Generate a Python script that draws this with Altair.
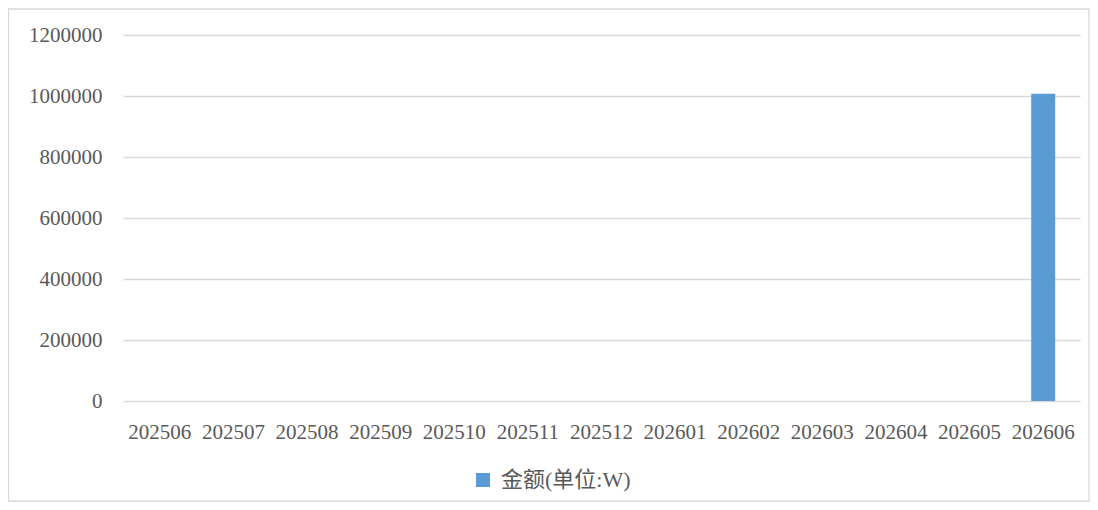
import altair as alt
import pandas as pd

months = ["202506", "202507", "202508", "202509", "202510", "202511", "202512",
          "202601", "202602", "202603", "202604", "202605", "202606"]
amounts = [0, 0, 0, 0, 0, 0, 0, 0, 0, 0, 0, 0, 1007000]
series_name = "金额(单位:W)"
y_ticks = [0, 200000, 400000, 600000, 800000, 1000000, 1200000]

df = pd.DataFrame({"month": months, "amount": amounts, "series": [series_name] * len(months)})

W, H = 957, 366
PAD_L, PAD_T, PAD_R, PAD_B = 115, 27, 10, 101

label_font = "'Liberation Serif', 'Times New Roman', serif"
legend_font = "'Liberation Serif', 'Times New Roman', 'Noto Sans CJK SC', serif"
text_color = "#595959"
grid_color = "#D9D9D9"

bars = alt.Chart(df).mark_bar(color="#5B9BD5").encode(
    x=alt.X("month:N", sort=months,
            scale=alt.Scale(paddingInner=0.674, paddingOuter=0.337),
            axis=alt.Axis(title=None, labelAngle=0, domain=False, ticks=False, tickSize=0,
                          labelPadding=20, labelFont=label_font, labelFontSize=21,
                          labelColor=text_color, grid=False, labelOverlap=False)),
    y=alt.Y("amount:Q",
            scale=alt.Scale(domain=[0, 1200000], nice=False),
            axis=alt.Axis(title=None, values=y_ticks, format="d", domain=False, ticks=False,
                          tickSize=0, labelPadding=21, labelFont=label_font, labelFontSize=21,
                          labelColor=text_color, grid=True, gridColor=grid_color,
                          gridWidth=1.4)),
    color=alt.Color("series:N",
                    scale=alt.Scale(domain=[series_name], range=["#5B9BD5"]),
                    legend=alt.Legend(title=None, orient="none", legendX=349, legendY=434,
                                      symbolType="square", symbolSize=196,
                                      symbolStrokeWidth=0, padding=0, labelOffset=7,
                                      labelFont=legend_font,
                                      labelFontSize=22, labelColor=text_color)),
)

border = alt.Chart(pd.DataFrame({"b": [0]})).mark_rect(
    fill=None, stroke=grid_color, strokeWidth=1.3
).encode(
    x=alt.value(-PAD_L + 0.5), x2=alt.value(W + PAD_R - 1),
    y=alt.value(-PAD_T + 1), y2=alt.value(H + PAD_B - 1),
)

chart = alt.layer(border, bars).properties(
    width=W, height=H,
    padding={"left": PAD_L, "top": PAD_T, "right": PAD_R, "bottom": PAD_B},
    autosize=alt.AutoSizeParams(type="none"),
    background="white",
).configure_view(stroke=None)

chart.save("out.html", embed_options={"renderer": "svg", "actions": False})
